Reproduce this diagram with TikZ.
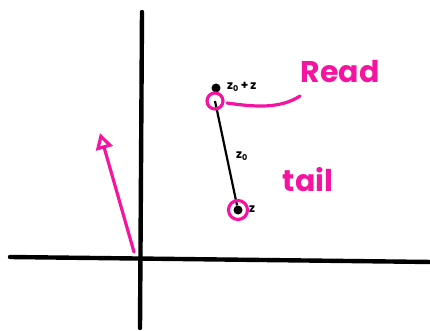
\documentclass[tikz,border=0pt]{standalone}
\usepackage{fontspec}
\newfontfamily\hand{Poppins}
\usetikzlibrary{arrows.meta}
\definecolor{hot}{RGB}{245,20,160}
\begin{document}
\begin{tikzpicture}[x=1pt,y=-1pt,
  axis/.style={line width=4.4pt,black,line cap=round},
  pinkline/.style={hot,line width=3.2pt,line cap=round},
  dot/.style={circle,fill=black,inner sep=0pt,minimum size=9pt},
  lab/.style={font=\hand\bfseries\large,inner sep=1pt},
  handtxt/.style={hot,font=\hand\bfseries\fontsize{30}{32}\selectfont,inner sep=0pt}]
\useasboundingbox (0,0) rectangle (430,331);
% axes
\coordinate (vt) at (142,12);
\coordinate (vb) at (140,328);
\coordinate (hl) at (10,257);
\coordinate (hr) at (432,262);
\draw[axis] (vt) -- (vb);
\draw[axis] (hl) -- (hr);
% pink vector
\coordinate (vs) at (134,252);
\coordinate (ve) at (100,133);
\draw[pinkline,-{Triangle[open,length=16pt,width=17pt,line width=3.2pt]}] (vs) -- (ve);
% segment
\node[dot] (top) at (216,88) {};
\coordinate (head) at (215,101);
\node[dot] (tl) at (238,210) {};
\draw[line width=2.2pt] (head) -- (tl);
\node[lab,anchor=west] (lz0z) at (226,87) {z\textsubscript{0}\,+\,z};
\node[lab,anchor=west] (lz) at (248,209) {z};
\node[lab] (lz0) at (242,156) {z\textsubscript{0}};
% pink circles
\node[draw=hot,line width=3.2pt,circle,minimum size=16pt,inner sep=0pt] (hc) at (head) {};
\node[draw=hot,line width=3.2pt,circle,minimum size=19pt,inner sep=0pt] (tc) at (tl) {};
% curve to Read
\coordinate (cstart) at (227,103);
\coordinate (cend) at (300,96);
\draw[pinkline] (cstart) .. controls (255,107) and (280,109) .. (cend);
\node[handtxt] (read) at (340,72) {Read};
\node[handtxt] (tail) at (308,180) {tail};
\end{tikzpicture}
\end{document}
